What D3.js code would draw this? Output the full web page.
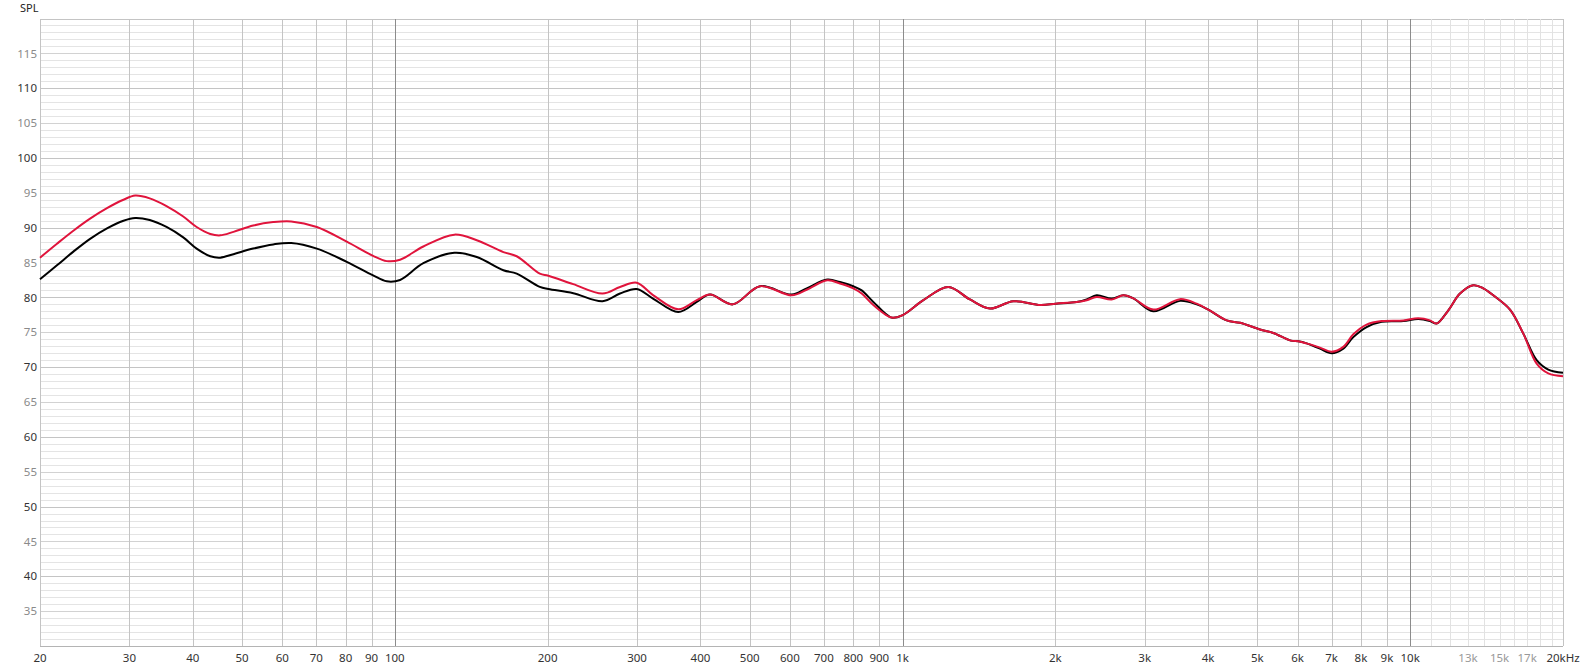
<!DOCTYPE html>
<html>
<head>
<meta charset="utf-8">
<script src="https://cdn.jsdelivr.net/npm/d3@7"></script>
<style>
  body { margin: 0; background: #fff; }
  .chart { width: 1583px; height: 670px; }
  text { font-family: "Noto Sans", "Open Sans", sans-serif; }
</style>
</head>
<body>
<div class="chart"></div>
<script>
// frequency points (Hz)
const freqs = [20, 21.6, 23.3, 25.1, 27.1, 29.2, 30.8, 32.9, 35.5, 38.3, 40.7, 43.3, 45.3, 48.1, 52.6, 57.6, 62.5,
  70.2, 80.4, 90.4, 96.4, 102.4, 113.8, 131, 145, 163.6, 173.8, 193, 200.6, 224.6, 256.5, 277.7, 299.5, 323, 361.7,
  393.3, 417.7, 463, 524, 605, 647.6, 711, 753, 800, 831, 876, 952, 1003, 1099, 1231, 1358, 1487, 1653, 1870,
  2003, 2204, 2306, 2412, 2582, 2723, 2850, 3119, 3520, 3798, 4002, 4351, 4623, 5062, 5375, 5820, 6019, 6252,
  6641, 7003, 7384, 7727, 8207, 8787, 9696, 10375, 10940, 11275, 11890, 12535, 13313, 13930, 14578, 15727,
  16706, 17747, 18709, 20000];

const splBlack = [82.6, 84.6, 86.6, 88.4, 89.9, 91.0, 91.4, 91.1, 90.1, 88.6, 87.0, 85.9, 85.7, 86.2, 87.0, 87.6, 87.8,
  87.0, 85.1, 83.2, 82.3, 82.5, 84.9, 86.4, 85.8, 83.9, 83.4, 81.5, 81.2, 80.6, 79.45, 80.55, 81.2, 79.8, 77.9,
  79.35, 80.4, 79.0, 81.6, 80.4, 81.3, 82.55, 82.2, 81.6, 81.0, 79.35, 77.1, 77.5, 79.6, 81.5, 79.7, 78.4, 79.45, 78.9,
  79.1, 79.35, 79.7, 80.3, 79.85, 80.3, 79.85, 78.0, 79.5, 79.0, 78.25, 76.7, 76.35, 75.4, 74.9, 73.8, 73.7, 73.4,
  72.65, 72.0, 72.65, 74.3, 75.75, 76.5, 76.6, 76.9, 76.6, 76.25, 78.15, 80.55, 81.75, 81.3, 80.3, 78.25,
  74.8, 71.0, 69.65, 69.2];

const splRed = [85.7, 87.7, 89.6, 91.3, 92.8, 94.0, 94.6, 94.2, 93.1, 91.6, 90.1, 89.1, 88.9, 89.4, 90.3, 90.8, 90.9,
  90.1, 88.0, 86.0, 85.2, 85.4, 87.3, 89.0, 88.2, 86.5, 85.9, 83.4, 83.1, 81.9, 80.55, 81.5, 82.1, 80.3, 78.3,
  79.6, 80.4, 79.0, 81.6, 80.3, 81.1, 82.45, 82.0, 81.3, 80.55, 78.9, 77.1, 77.5, 79.6, 81.5, 79.7, 78.4, 79.45, 78.9,
  79.1, 79.35, 79.6, 80.05, 79.7, 80.3, 79.85, 78.25, 79.75, 79.1, 78.25, 76.7, 76.35, 75.4, 74.9, 73.8, 73.7, 73.4,
  72.8, 72.2, 72.9, 74.7, 76.1, 76.6, 76.7, 77.0, 76.7, 76.25, 78.15, 80.55, 81.75, 81.3, 80.3, 78.25,
  74.8, 70.5, 69.1, 68.7];

// grid / tick values
const xGrid = [20, 30, 40, 50, 60, 70, 80, 90, 100, 200, 300, 400, 500, 600, 700, 800, 900, 1000,
  2000, 3000, 4000, 5000, 6000, 7000, 8000, 9000, 10000];
const xGridHigh = [11000, 12000, 13000, 14000, 15000, 16000, 17000, 18000, 19000, 20000];
const xDecades = [100, 1000, 10000];
const xLabels = [
  [20, "20"], [30, "30"], [40, "40"], [50, "50"], [60, "60"], [70, "70"], [80, "80"], [90, "90"], [100, "100"],
  [200, "200"], [300, "300"], [400, "400"], [500, "500"], [600, "600"], [700, "700"], [800, "800"], [900, "900"],
  [1000, "1k"], [2000, "2k"], [3000, "3k"], [4000, "4k"], [5000, "5k"], [6000, "6k"], [7000, "7k"], [8000, "8k"],
  [9000, "9k"], [10000, "10k"], [13000, "13k"], [15000, "15k"], [17000, "17k"], [20000, "20kHz"]];
const xLabelsFaint = [13000, 15000, 17000];
const yLabels = [35, 40, 45, 50, 55, 60, 65, 70, 75, 80, 85, 90, 95, 100, 105, 110, 115];

const W = 1583, H = 670;
const m = {l: 40, t: 18.5, r: 20, b: 24};

const svg = d3.select('.chart').append('svg')
  .attr('width', W).attr('height', H)
  .attr('viewBox', [0, 0, W, H]);

const x = d3.scaleLog().domain([20, 20000]).range([m.l, W - m.r]);
const y = d3.scaleLinear().domain([30, 120]).range([H - m.b, m.t]);

const grid = svg.append('g').attr('shape-rendering', 'crispEdges');

// horizontal lines, one per dB
grid.selectAll('line.h')
  .data(d3.range(31, 121))
  .join('line')
  .attr('class', 'h')
  .attr('x1', x(20)).attr('x2', x(20000))
  .attr('y1', d => Math.round(y(d)) + 0.5).attr('y2', d => Math.round(y(d)) + 0.5)
  .attr('stroke', d => d % 10 === 0 ? '#c4c4c4' : d % 5 === 0 ? '#d2d2d2' : '#e4e4e4');

grid.selectAll('line.vh')
  .data(xGridHigh)
  .join('line')
  .attr('class', 'vh')
  .attr('x1', d => Math.round(x(d)) + 0.5).attr('x2', d => Math.round(x(d)) + 0.5)
  .attr('y1', y(120)).attr('y2', y(30))
  .attr('stroke', d => d === 20000 ? '#c4c4c4' : '#e2e2e2');

grid.selectAll('line.v')
  .data(xGrid)
  .join('line')
  .attr('class', 'v')
  .attr('x1', d => Math.round(x(d)) + 0.5).attr('x2', d => Math.round(x(d)) + 0.5)
  .attr('y1', y(120)).attr('y2', y(30))
  .attr('stroke', d => xDecades.includes(d) ? '#8c8c8c' : '#c4c4c4');

// axis frame
grid.append('line')
  .attr('x1', x(20)).attr('x2', x(20000))
  .attr('y1', Math.round(y(30)) + 0.5).attr('y2', Math.round(y(30)) + 0.5)
  .attr('stroke', '#b4b4b4');

// labels
svg.append('text')
  .attr('x', 20).attr('y', 12)
  .attr('font-size', 11).attr('fill', '#222')
  .text('SPL');

svg.append('g').selectAll('text')
  .data(yLabels)
  .join('text')
  .attr('x', 37).attr('y', d => y(d))
  .attr('dy', '0.36em')
  .attr('text-anchor', 'end')
  .attr('font-size', 11.5)
  .attr('fill', d => d % 10 === 0 ? '#333' : '#8a8a8a')
  .text(d => d);

svg.append('g').selectAll('text')
  .data(xLabels)
  .join('text')
  .attr('x', d => x(d[0])).attr('y', y(30) + 16)
  .attr('text-anchor', 'middle')
  .attr('font-size', 11.5)
  .attr('fill', d => xLabelsFaint.includes(d[0]) ? '#999' : '#333')
  .text(d => d[1]);

// curves
const line = d3.line()
  .x(d => x(d[0]))
  .y(d => y(d[1]))
  .curve(d3.curveCatmullRom.alpha(0.5));

const series = [
  {name: 'black', values: splBlack, color: '#000'},
  {name: 'red', values: splRed, color: '#e0143c'}
];

svg.append('g').selectAll('path')
  .data(series)
  .join('path')
  .attr('fill', 'none')
  .attr('stroke', d => d.color)
  .attr('stroke-width', 2)
  .attr('stroke-linejoin', 'round')
  .attr('d', d => line(freqs.map((f, i) => [f, d.values[i]])));
</script>
</body>
</html>
